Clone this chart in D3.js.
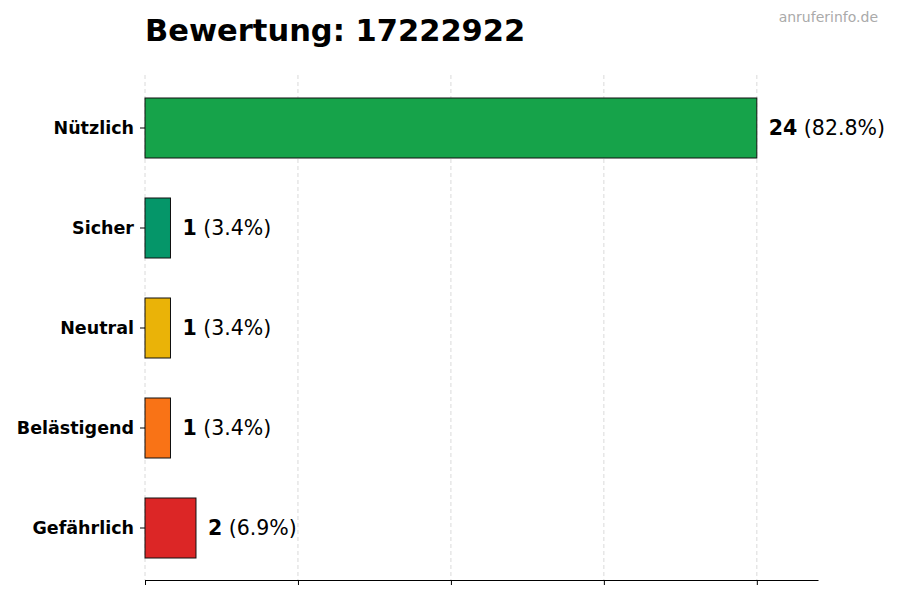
<!DOCTYPE html>
<html>
<head>
<meta charset="utf-8">
<script src="https://cdn.jsdelivr.net/npm/d3@7"></script>
<style>
  body { margin: 0; background: #fff; }
  svg { font-family: "DejaVu Sans", sans-serif; }
</style>
</head>
<body>
<svg width="900" height="600"></svg>
<script>
// chart data
var categories = ["Nützlich", "Sicher", "Neutral", "Belästigend", "Gefährlich"];
var counts = [24, 1, 1, 1, 2];
var percents = ["82.8%", "3.4%", "3.4%", "3.4%", "6.9%"];
var colors = ["#16a34a", "#059669", "#eab308", "#f97316", "#dc2626"];
var xTicks = [0, 6, 12, 18, 24];
var title = "Bewertung: 17222922";
var watermark = "anruferinfo.de";

var svg = d3.select("svg");
// plot area (note: "top" is reserved on window, so use plot* names)
var plotLeft = 145, plotRight = 818, plotTop = 78, plotBottom = 578, axisY = 580;

var xScale = d3.scaleLinear().domain([0, d3.max(counts) * 1.1]).range([plotLeft, plotRight]);
var yScale = d3.scaleBand().domain(categories).range([plotTop, plotBottom])
  .paddingInner(0.4).paddingOuter(0.2);

// grid lines
svg.append("g")
  .selectAll("line")
  .data(xTicks)
  .enter()
  .append("line")
  .attr("x1", function(d) { return xScale(d); })
  .attr("x2", function(d) { return xScale(d); })
  .attr("y1", 75)
  .attr("y2", axisY)
  .attr("stroke", "#d0d0d0")
  .attr("stroke-width", 0.8)
  .attr("stroke-dasharray", "4,3");

// bars
svg.append("g")
  .selectAll("rect")
  .data(categories)
  .enter()
  .append("rect")
  .attr("x", xScale(0))
  .attr("y", function(d) { return yScale(d); })
  .attr("width", function(d, i) { return xScale(counts[i]) - xScale(0); })
  .attr("height", yScale.bandwidth())
  .attr("fill", function(d, i) { return colors[i]; })
  .attr("stroke", "#111")
  .attr("stroke-width", 1);

// value labels
var lbl = svg.append("g")
  .selectAll("text")
  .data(categories)
  .enter()
  .append("text")
  .attr("x", function(d, i) { return xScale(counts[i]) + 12; })
  .attr("y", function(d) { return yScale(d) + yScale.bandwidth() / 2; })
  .attr("dy", "0.35em")
  .style("font-size", "20.5px");
lbl.append("tspan").attr("font-weight", "bold").text(function(d, i) { return counts[i]; });
lbl.append("tspan").text(function(d, i) { return " (" + percents[i] + ")"; });

// x axis, no labels
var xAxis = svg.append("g")
  .attr("transform", "translate(0," + axisY + ")")
  .call(d3.axisBottom(xScale).tickValues(xTicks).tickFormat("").tickSize(5).tickSizeOuter(0));
xAxis.select(".domain").attr("stroke", "#000").attr("stroke-width", 1.2);
xAxis.selectAll(".tick line").attr("stroke", "#000");

// y axis
var yAxis = svg.append("g")
  .attr("transform", "translate(" + plotLeft + ",0)")
  .call(d3.axisLeft(yScale).tickSize(5).tickPadding(6));
yAxis.select(".domain").remove();
yAxis.selectAll(".tick text")
  .style("font-size", "17.5px")
  .style("font-weight", "bold")
  .style("font-family", "'DejaVu Sans', sans-serif")
  .attr("fill", "#000");

// title and watermark
svg.append("text")
  .attr("x", plotLeft)
  .attr("y", 41)
  .style("font-size", "30.5px")
  .style("font-weight", "bold")
  .text(title);

svg.append("text")
  .attr("x", 878)
  .attr("y", 22)
  .attr("text-anchor", "end")
  .style("font-size", "14px")
  .attr("fill", "#aaa")
  .text(watermark);
</script>
</body>
</html>
